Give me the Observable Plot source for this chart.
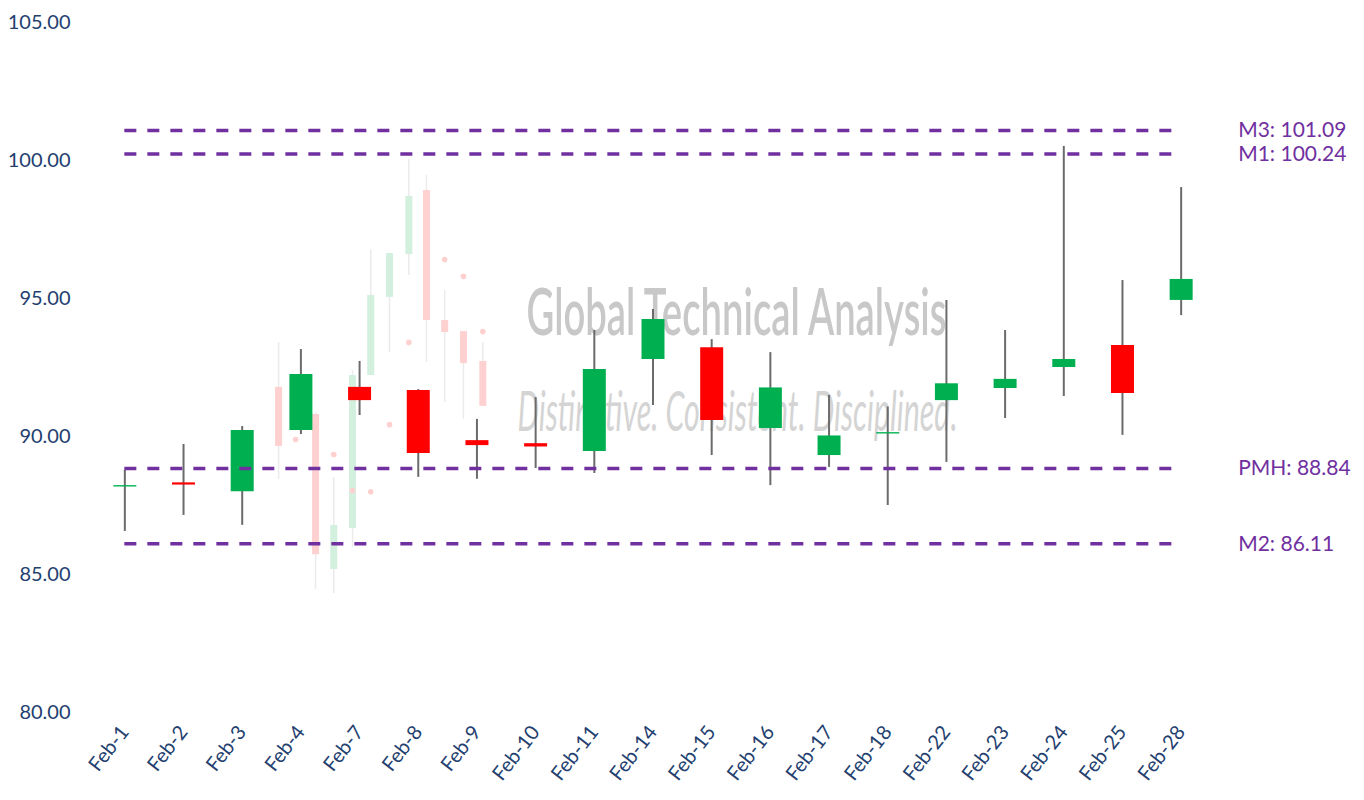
<!DOCTYPE html>
<html>
<head>
<meta charset="utf-8">
<script src="https://cdn.jsdelivr.net/npm/d3@7"></script>
<script src="https://cdn.jsdelivr.net/npm/@observablehq/plot@0.6"></script>
<style>
  html, body { margin: 0; padding: 0; background: #ffffff; }
  #chart svg { display: block; }
</style>
</head>
<body>
<div id="chart"></div>
<script>
// ---- Data ----
const dates  = ["Feb-1","Feb-2","Feb-3","Feb-4","Feb-7","Feb-8","Feb-9","Feb-10","Feb-11","Feb-14","Feb-15","Feb-16","Feb-17","Feb-18","Feb-22","Feb-23","Feb-24","Feb-25","Feb-28"];
const opens  = [88.17, 88.32, 88.00, 90.22, 91.78, 91.67, 89.85, 89.74, 89.46, 92.79, 93.22, 90.29, 89.31, 90.09, 91.30, 91.74, 92.50, 93.30, 94.93];
const highs  = [88.77, 89.71, 90.36, 93.15, 92.72, 91.70, 90.62, 91.41, 93.84, 94.60, 93.51, 93.04, 91.49, 91.07, 94.93, 93.84, 100.51, 95.65, 99.02];
const lows   = [86.56, 87.14, 86.78, 90.07, 90.76, 88.52, 88.45, 88.84, 88.66, 91.12, 89.31, 88.22, 88.88, 87.50, 89.06, 90.65, 91.45, 90.04, 94.38];
const closes = [88.22, 88.24, 90.22, 92.25, 91.30, 89.38, 89.67, 89.62, 92.43, 94.24, 90.58, 91.76, 90.02, 90.14, 91.91, 92.07, 92.79, 91.56, 95.69];

const yTicks = [80, 85, 90, 95, 100, 105];

const levelNames  = ["M3", "M1", "PMH", "M2"];
const levelValues = [101.09, 100.24, 88.84, 86.11];

// faint watermark candles (logo image in background), x in category-index units
const wmX     = [2.62, 3.25, 3.56, 3.88, 4.19, 4.51, 4.84, 5.14, 5.45, 5.77, 6.10];
const wmOpen  = [91.78, 90.80, 85.18, 86.67, 92.21, 95.04, 96.59, 98.91, 94.20, 93.80, 92.72];
const wmClose = [89.64, 85.72, 86.78, 92.21, 95.11, 96.63, 98.70, 94.20, 93.77, 92.64, 91.09];
const wmHigh  = [93.41, 90.85, 88.51, 92.39, 96.78, 96.63, 100.04, 99.46, 95.29, 93.80, 93.41];
const wmLow   = [88.44, 84.46, 84.31, 85.98, 92.21, 93.04, 95.83, 92.68, 91.23, 90.62, 91.09];
const wmDotX  = [2.91, 3.56, 3.88, 4.19, 4.51, 4.84, 5.45, 5.77, 6.10];
const wmDotY  = [89.89, 89.35, 88.04, 88.00, 90.43, 93.41, 96.41, 95.80, 93.80];

const wmTitle = "Global Technical Analysis";
const wmSub   = "Distinctive. Consistent. Disciplined.";

// ---- Build tables ----
const data = dates.map((d, i) => ({i, date: d, open: opens[i], high: highs[i], low: lows[i], close: closes[i]}));
const levels = levelNames.map((n, i) => ({name: n, value: levelValues[i]}));
const wm = wmX.map((x, i) => ({x, open: wmOpen[i], close: wmClose[i], high: wmHigh[i], low: wmLow[i]}));
const wmDots = wmDotX.map((x, i) => ({x, y: wmDotY[i]}));

const GREEN = "#00b050", RED = "#ff0000", PURPLE = "#7030a0";
const lastIdx = dates.length - 1;

const chart = Plot.plot({
  width: 1364,
  height: 800,
  marginLeft: 95,
  marginRight: 154,
  marginTop: 22,
  marginBottom: 88,
  style: {fontFamily: "Lato, 'Open Sans', sans-serif", color: "#23406f", background: "#ffffff"},
  x: {type: "linear", domain: [-0.5, dates.length - 0.5]},
  y: {domain: [80, 105]},
  marks: [
    // watermark text
    Plot.text([wmTitle], {frameAnchor: "top-left", dx: 641, dy: 291, text: d => d, textAnchor: "middle", lineAnchor: "middle",
      fontSize: 66, fontWeight: 600, fill: "#c8c8c8", className: "wm-title"}),
    Plot.text([wmSub], {frameAnchor: "top-left", dx: 642, dy: 391, text: d => d, textAnchor: "middle", lineAnchor: "middle",
      fontSize: 56, fontStyle: "italic", fill: "#d4d4d4", className: "wm-sub"}),
    // watermark candles
    Plot.ruleX(wm, {x: "x", y1: "low", y2: "high", stroke: "#ebebeb", strokeWidth: 1.5}),
    Plot.ruleX(wm, {x: "x", y1: "open", y2: "close", strokeWidth: 7,
      stroke: d => d.close >= d.open ? "#d3f0df" : "#ffd0d0"}),
    Plot.dot(wmDots, {x: "x", y: "y", r: 2.8, fill: "#ffd0d0", stroke: null}),
    // main candles
    Plot.ruleX(data, {x: "i", y1: "low", y2: "high", stroke: "#6b6b6b", strokeWidth: 2}),
    Plot.ruleX(data, {x: "i", y1: "open", y2: "close", strokeWidth: 23,
      stroke: d => d.close >= d.open ? GREEN : RED}),
    // level lines
    Plot.ruleY(levels, {y: "value", x1: 0, x2: lastIdx, stroke: PURPLE, strokeWidth: 3.5, strokeDasharray: "12,11"}),
    Plot.text(levels, {x: lastIdx, y: "value", dx: 57, text: d => `${d.name}: ${d.value.toFixed(2)}`,
      textAnchor: "start", fill: PURPLE, fontSize: 21}),
    // axes
    Plot.axisY({ticks: yTicks, tickFormat: d3.format(".2f"), tickSize: 0, tickPadding: 25, fontSize: 20, label: null}),
    Plot.axisX({ticks: d3.range(dates.length), tickFormat: i => dates[i], tickRotate: -52, tickSize: 0,
      tickPadding: 16, fontSize: 20, label: null})
  ]
});

d3.select(chart).selectAll(".wm-title text").attr("textLength", 420).attr("lengthAdjust", "spacingAndGlyphs");
d3.select(chart).selectAll(".wm-sub text").attr("textLength", 440).attr("lengthAdjust", "spacingAndGlyphs");

document.getElementById("chart").append(chart);
</script>
</body>
</html>
